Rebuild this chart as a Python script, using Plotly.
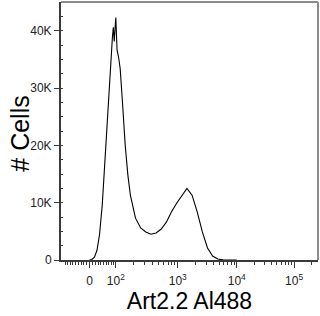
import numpy as np
import plotly.graph_objects as go

# ---------------- data ----------------
intensity = [0, 8, 17, 26, 35, 45, 54, 64, 74, 85, 89, 93, 100, 106, 113, 121,
             134, 148, 164, 180, 217, 261, 313, 376, 452, 544, 655, 792, 959,
             1164, 1415, 1723, 2101, 2566, 3138, 3841, 4705, 5767, 7073, 10000]
cells = [0, 100, 500, 1700, 4400, 9600, 16500, 24400, 31400, 38800, 40600,
         38100, 42300, 36600, 35400, 33400, 27000, 20000, 14800, 11300, 7300,
         5600, 4900, 4500, 4700, 5400, 6600, 8400, 9900, 11300, 12500, 11300,
         8400, 4900, 2100, 700, 170, 30, 0, 0]

x_tick_values = [0, 100, 1000, 10000, 100000]
x_tick_labels = ["0", "10<sup>2</sup>", "10<sup>3</sup>", "10<sup>4</sup>", "10<sup>5</sup>"]
y_tick_values = [0, 10000, 20000, 30000, 40000]
y_tick_labels = ["0", "10K", "20K", "30K", "40K"]

x_title = "Art2.2 Al488"
y_title = "# Cells"


# ---------------- logicle (biexponential) scale ----------------
def logicle_params(T=262144.0, W=0.5, M=4.5, A=0.0):
    w = W / (M + A)
    x2 = A / (M + A)
    x1 = x2 + w
    x0 = x2 + 2 * w
    b = (M + A) * np.log(10)
    lo, hi = 1e-9, b
    for _ in range(200):
        d = 0.5 * (lo + hi)
        val = 2 * (np.log(d) - np.log(b)) + w * (b + d)
        if val > 0:
            hi = d
        else:
            lo = d
    d = 0.5 * (lo + hi)
    c_a = np.exp(x0 * (b + d))
    mf_a = np.exp(b * x1) - c_a / np.exp(d * x1)
    a = T / ((np.exp(b) - mf_a) - c_a / np.exp(d))
    return dict(a=a, b=b, c=c_a * a, d=d, f=-mf_a * a, x1=x1)


P = logicle_params()


def logicle_inverse(y):
    y = np.asarray(y, dtype=float)
    yy = np.where(y >= P["x1"], y, 2 * P["x1"] - y)
    s = P["a"] * np.exp(P["b"] * yy) - P["c"] * np.exp(-P["d"] * yy) + P["f"]
    return np.where(y >= P["x1"], s, -s)


def logicle(v):
    v = np.asarray(v, dtype=float)
    lo = np.full(v.shape, -1.0)
    hi = np.full(v.shape, 1.5)
    for _ in range(80):
        mid = 0.5 * (lo + hi)
        big = logicle_inverse(mid) > v
        hi = np.where(big, mid, hi)
        lo = np.where(big, lo, mid)
    return 0.5 * (lo + hi)


minor_vals = ([-k * 10 for k in range(1, 10)] + [k * 10 for k in range(1, 10)]
              + [k * 100 for k in range(2, 10)] + [k * 1000 for k in range(2, 10)]
              + [k * 10000 for k in range(2, 10)] + [200000])

axis_col = "#3a3a3a"
font_family = "Arial, 'Liberation Sans', Helvetica, sans-serif"

fig = go.Figure()
fig.add_trace(go.Scatter(
    x=logicle(intensity), y=cells, mode="lines",
    line=dict(color="black", width=1.1), hoverinfo="skip", showlegend=False,
))

fig.update_layout(
    width=320, height=316,
    margin=dict(l=61, r=2, t=2, b=56, pad=0),
    paper_bgcolor="white", plot_bgcolor="white",
    font=dict(family=font_family, color="#222222", size=12),
    showlegend=False,
    shapes=[
        dict(type="line", xref="paper", yref="paper", x0=0, x1=1, y0=1, y1=1,
             line=dict(color="#8c8c8c", width=2)),
        dict(type="line", xref="paper", yref="paper", x0=1, x1=1, y0=0, y1=1,
             line=dict(color="#8c8c8c", width=2)),
    ],
    annotations=[
        dict(text=y_title, xref="paper", yref="paper", x=-0.163, y=0.49,
             xanchor="center", yanchor="middle", textangle=-90, showarrow=False,
             font=dict(size=25, color="black", family=font_family)),
    ],
)

fig.update_xaxes(
    range=[0, 1], showgrid=False, zeroline=False,
    showline=True, linecolor=axis_col, linewidth=2,
    tickmode="array", tickvals=logicle(x_tick_values), ticktext=x_tick_labels,
    ticks="outside", ticklen=6, tickwidth=1, tickcolor=axis_col,
    ticklabelstandoff=3,
    tickfont=dict(size=12, color="#222222"),
    minor=dict(tickvals=logicle(minor_vals), ticks="outside", ticklen=3,
               tickwidth=1, tickcolor=axis_col, showgrid=False),
    title=dict(text=x_title, font=dict(size=23, color="black"), standoff=0),
    automargin=False,
)
fig.update_yaxes(
    range=[0, 45000], showgrid=False, zeroline=False,
    showline=True, linecolor=axis_col, linewidth=2,
    tickmode="array", tickvals=y_tick_values, ticktext=y_tick_labels,
    ticks="outside", ticklen=5, tickwidth=1, tickcolor=axis_col,
    tickfont=dict(size=12, color="#222222"),
    minor=dict(dtick=2500, tick0=0, ticks="inside", ticklen=2, tickwidth=1,
               tickcolor=axis_col, showgrid=False),
    automargin=False,
)

fig.write_html("out.html")
